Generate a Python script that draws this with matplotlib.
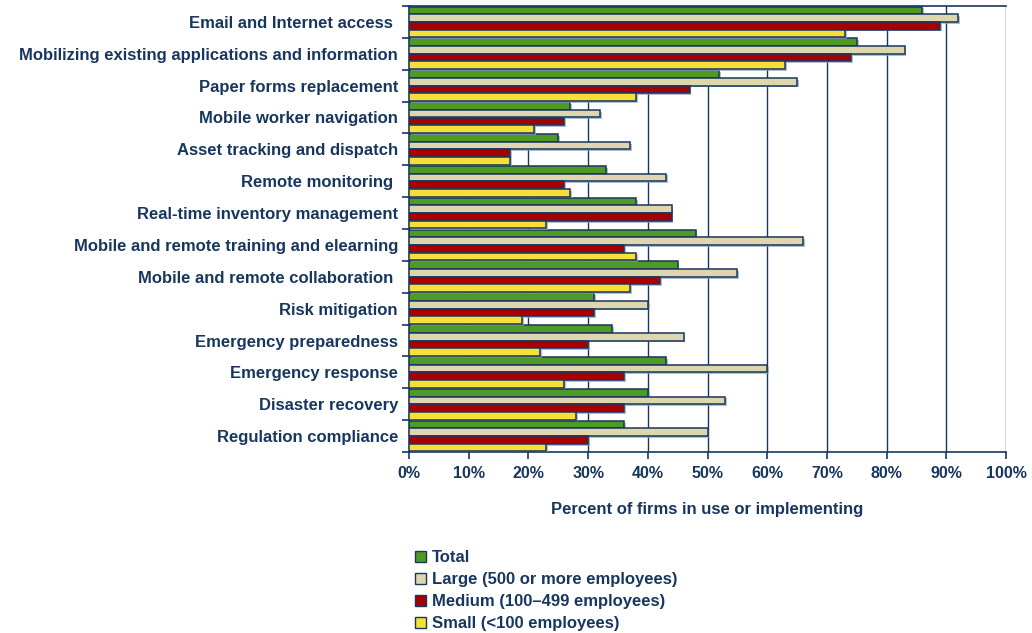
import matplotlib
matplotlib.use("Agg")
import matplotlib.pyplot as plt
import matplotlib.patheffects as pe
from matplotlib.patches import Patch
import numpy as np

plt.rcParams['font.family'] = ['Liberation Sans', 'DejaVu Sans']

categories = [
    "Email and Internet access ",
    "Mobilizing existing applications and information",
    "Paper forms replacement",
    "Mobile worker navigation",
    "Asset tracking and dispatch",
    "Remote monitoring ",
    "Real-time inventory management",
    "Mobile and remote training and elearning",
    "Mobile and remote collaboration ",
    "Risk mitigation",
    "Emergency preparedness",
    "Emergency response",
    "Disaster recovery",
    "Regulation compliance",
]
total  = [86, 75, 52, 27, 25, 33, 38, 48, 45, 31, 34, 43, 40, 36]
large  = [92, 83, 65, 32, 37, 43, 44, 66, 55, 40, 46, 60, 53, 50]
medium = [89, 74, 47, 26, 17, 26, 44, 36, 42, 31, 30, 36, 36, 30]
small  = [73, 63, 38, 21, 17, 27, 23, 38, 37, 19, 22, 26, 28, 23]

series_names = ["Total", "Large (500 or more employees)",
                "Medium (100\u2013499 employees)", "Small (<100 employees)"]
series_vals = [total, large, medium, small]
colors = ["#4E9A24", "#DDD6AE", "#A50002", "#F8DF38"]
navy = "#17375E"

fig = plt.figure(figsize=(10.32, 6.33), dpi=100)
ax = fig.add_axes([409/1032, 1 - 452/633, 597/1032, 446/633])

n = len(categories)
bar_h = 0.24
base = np.arange(n)
shadow = [pe.SimplePatchShadow(offset=(1.3, -1.3), shadow_rgbFace="#8FA3C0", alpha=0.7), pe.Normal()]
for k, (vals, col) in enumerate(zip(series_vals, colors)):
    y = base - 0.36 + k * 0.24
    bars = ax.barh(y, vals, height=bar_h, color=col, edgecolor=navy, linewidth=1.1, zorder=3)
    for b in bars:
        b.set_path_effects(shadow)

ax.set_ylim(n - 0.5, -0.5)
ax.set_xlim(0, 100)

ax.set_xticks(np.arange(0, 101, 10))
ax.set_xticklabels([f"{v}%" for v in range(0, 101, 10)], fontsize=11.5, fontweight='bold', color=navy)
ax.set_yticks(base)
ax.set_yticklabels(categories, fontsize=12, fontweight='bold', color=navy)
ax.set_yticks(np.arange(-0.5, n, 1.0), minor=True)
ax.tick_params(axis='y', which='major', length=0, pad=8)
ax.tick_params(axis='y', which='minor', length=5, width=1.2, color=navy, direction='out')
ax.tick_params(axis='x', length=5, width=1.2, color=navy, direction='out', pad=5)

ax.grid(axis='x', color=navy, linewidth=1.0, zorder=0)
for side in ['left', 'bottom', 'top']:
    ax.spines[side].set_color(navy)
    ax.spines[side].set_linewidth(1.2)
ax.spines['right'].set_visible(False)

ax.set_xlabel("Percent of firms in use or implementing", fontsize=12,
              fontweight='bold', color=navy, labelpad=15)

handles = [Patch(facecolor=c, edgecolor=navy, linewidth=1.0) for c in colors]
leg = fig.legend(handles, series_names, loc='lower left',
                 bbox_to_anchor=(400/1032, -0.021), frameon=False,
                 handlelength=0.65, handleheight=0.65, handletextpad=0.35,
                 labelspacing=0.42, prop={'size': 12, 'weight': 'bold'})
for t in leg.get_texts():
    t.set_color(navy)

fig.savefig("out.png", dpi=100)
